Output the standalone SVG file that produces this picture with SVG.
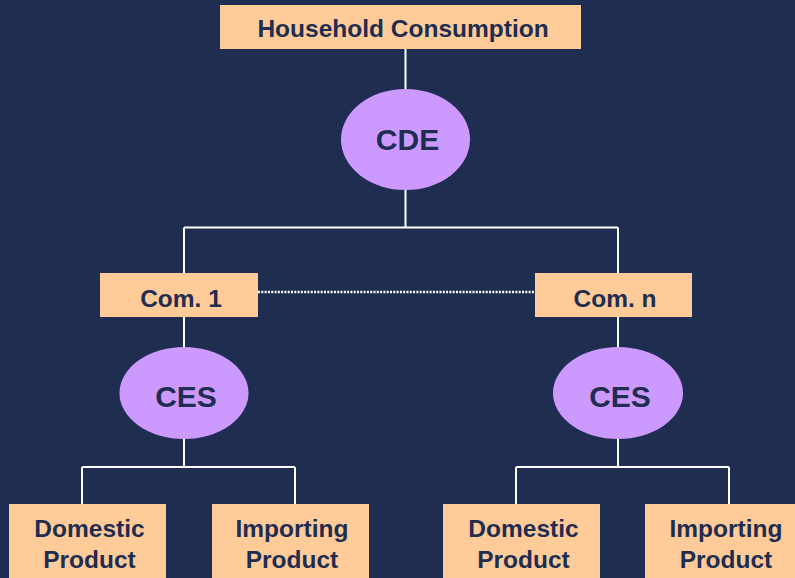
<svg xmlns="http://www.w3.org/2000/svg" width="795" height="578" viewBox="0 0 795 578">
<style>
.box{fill:#FFCC99}
.ell{fill:#CC99FF}
.t{font-family:"Liberation Sans",Arial,sans-serif;font-weight:bold;font-size:24.5px;fill:#1F2D50;text-anchor:middle}
.big{font-size:30px}
.ln{stroke:#FFFFFF;stroke-width:2;fill:none}
.dot{stroke:#FFFFFF;stroke-width:2.5;stroke-dasharray:2 1.3;fill:none}
</style>
<rect width="795" height="578" fill="#1F2D50"/>
<g id="connectors">
<path class="ln" d="M405.5 49V89M405.5 190V227.5M184 227.5H618M184 227.5V273M618 227.5V273"/>
<path class="ln" d="M184 317V347M184 439V467M82 467H295M82 467V504M295 467V504"/>
<path class="ln" d="M618 317V347M618 439V467M516 467H729M516 467V504M729 467V504"/>
<path class="dot" d="M258 292H535"/>
</g>
<g id="household">
<rect class="box" x="220" y="5" width="361" height="44"/>
<text class="t" x="403" y="37">Household Consumption</text>
</g>
<g id="cde">
<ellipse class="ell" cx="405.5" cy="139.5" rx="64.5" ry="50.5"/>
<text class="t big" x="407.5" y="149.5">CDE</text>
</g>
<g id="com1">
<rect class="box" x="100" y="273" width="158" height="44"/>
<text class="t" x="181" y="306.5">Com. 1</text>
</g>
<g id="comn">
<rect class="box" x="535" y="273" width="157" height="44"/>
<text class="t" x="615" y="306.5">Com. n</text>
</g>
<g id="ces1">
<ellipse class="ell" cx="184" cy="393" rx="64.5" ry="46"/>
<text class="t big" x="186" y="406.5">CES</text>
</g>
<g id="ces2">
<ellipse class="ell" cx="618" cy="393" rx="65" ry="46"/>
<text class="t big" x="620" y="406.5">CES</text>
</g>
<g id="dom1">
<rect class="box" x="9" y="504" width="157" height="80"/>
<text class="t" x="89.5" y="536.5">Domestic</text>
<text class="t" x="89.5" y="568">Product</text>
</g>
<g id="imp1">
<rect class="box" x="212" y="504" width="157" height="80"/>
<text class="t" x="292" y="536.5">Importing</text>
<text class="t" x="292" y="568">Product</text>
</g>
<g id="dom2">
<rect class="box" x="443" y="504" width="157" height="80"/>
<text class="t" x="523.5" y="536.5">Domestic</text>
<text class="t" x="523.5" y="568">Product</text>
</g>
<g id="imp2">
<rect class="box" x="645" y="504" width="157" height="80"/>
<text class="t" x="726" y="536.5">Importing</text>
<text class="t" x="726" y="568">Product</text>
</g>
</svg>
